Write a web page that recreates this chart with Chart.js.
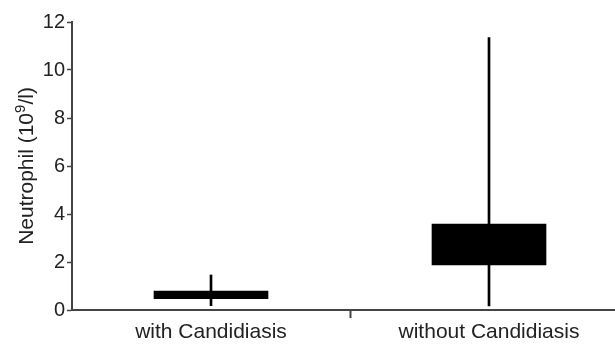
<!DOCTYPE html>
<html>
<head>
<meta charset="utf-8">
<script src="https://cdn.jsdelivr.net/npm/chart.js@4"></script>
<style>
    html, body { margin: 0; padding: 0; background: #fff; overflow: hidden; }
    #wrap { width: 628px; height: 345px; }
</style>
</head>
<body>
<div id="wrap"><canvas id="chart" width="628" height="345"></canvas></div>
<script>
const categories = ["with Candidiasis", "without Candidiasis"];
const lowerQuartile = [0.47, 1.88];
const upperQuartile = [0.79, 3.58];
const whiskerMin = [0.18, 0.17];
const whiskerMax = [1.46, 11.35];
const yTicks = [0, 2, 4, 6, 8, 10, 12];

const axisColor = "#444";
const textColor = "#222";
const fontFamily = "Liberation Sans, Arial, sans-serif";

// y axis title with a real superscript: "Neutrophil (10^9/l)"
const yTitlePlugin = {
    id: "yTitle",
    afterDraw(chart) {
        const ctx = chart.ctx;
        const area = chart.chartArea;
        const parts = [
            { text: "Neutrophil (10", size: 21, rise: 0 },
            { text: "9", size: 15, rise: 8 },
            { text: "/l)", size: 21, rise: 0 }
        ];
        ctx.save();
        ctx.fillStyle = textColor;
        ctx.textBaseline = "alphabetic";
        ctx.textAlign = "left";
        let total = 0;
        parts.forEach(p => {
            ctx.font = p.size + "px " + fontFamily;
            p.w = ctx.measureText(p.text).width;
            total += p.w;
        });
        ctx.translate(25, (area.top + area.bottom) / 2);
        ctx.rotate(-Math.PI / 2);
        let x = -total / 2;
        parts.forEach(p => {
            ctx.font = p.size + "px " + fontFamily;
            ctx.fillText(p.text, x, 7.5 - p.rise);
            x += p.w;
        });
        ctx.restore();
    }
};

new Chart(document.getElementById("chart"), {
    type: "bar",
    data: {
        labels: categories,
        datasets: [
            {
                // box
                data: categories.map((c, i) => [lowerQuartile[i], upperQuartile[i]]),
                backgroundColor: "#000",
                barThickness: 114,
                grouped: false,
                order: 1
            },
            {
                // whisker
                data: categories.map((c, i) => [whiskerMin[i], whiskerMax[i]]),
                backgroundColor: "#000",
                barThickness: 2,
                grouped: false,
                order: 2
            }
        ]
    },
    options: {
        responsive: false,
        animation: false,
        layout: { padding: { top: 22, right: 0, left: 0, bottom: 0 } },
        plugins: {
            legend: { display: false },
            tooltip: { enabled: false }
        },
        scales: {
            x: {
                afterFit: scale => { scale.height = 35; },
                grid: {
                    offset: true,
                    drawOnChartArea: false,
                    tickLength: 8,
                    tickWidth: 2,
                    tickColor: ctx => ctx.index === 1 ? axisColor : "rgba(0,0,0,0)"
                },
                border: { color: axisColor, width: 2 },
                ticks: {
                    color: textColor,
                    padding: 2,
                    font: { family: fontFamily, size: 21 }
                }
            },
            y: {
                min: 0,
                max: 12,
                afterFit: scale => { scale.width = 72; },
                afterBuildTicks: scale => { scale.ticks = yTicks.map(v => ({ value: v })); },
                grid: {
                    drawOnChartArea: false,
                    tickLength: 5,
                    tickWidth: 1.5,
                    tickColor: axisColor
                },
                border: { color: axisColor, width: 2 },
                ticks: {
                    color: textColor,
                    padding: 2,
                    font: { family: fontFamily, size: 20 }
                }
            }
        }
    },
    plugins: [yTitlePlugin]
});
</script>
</body>
</html>
